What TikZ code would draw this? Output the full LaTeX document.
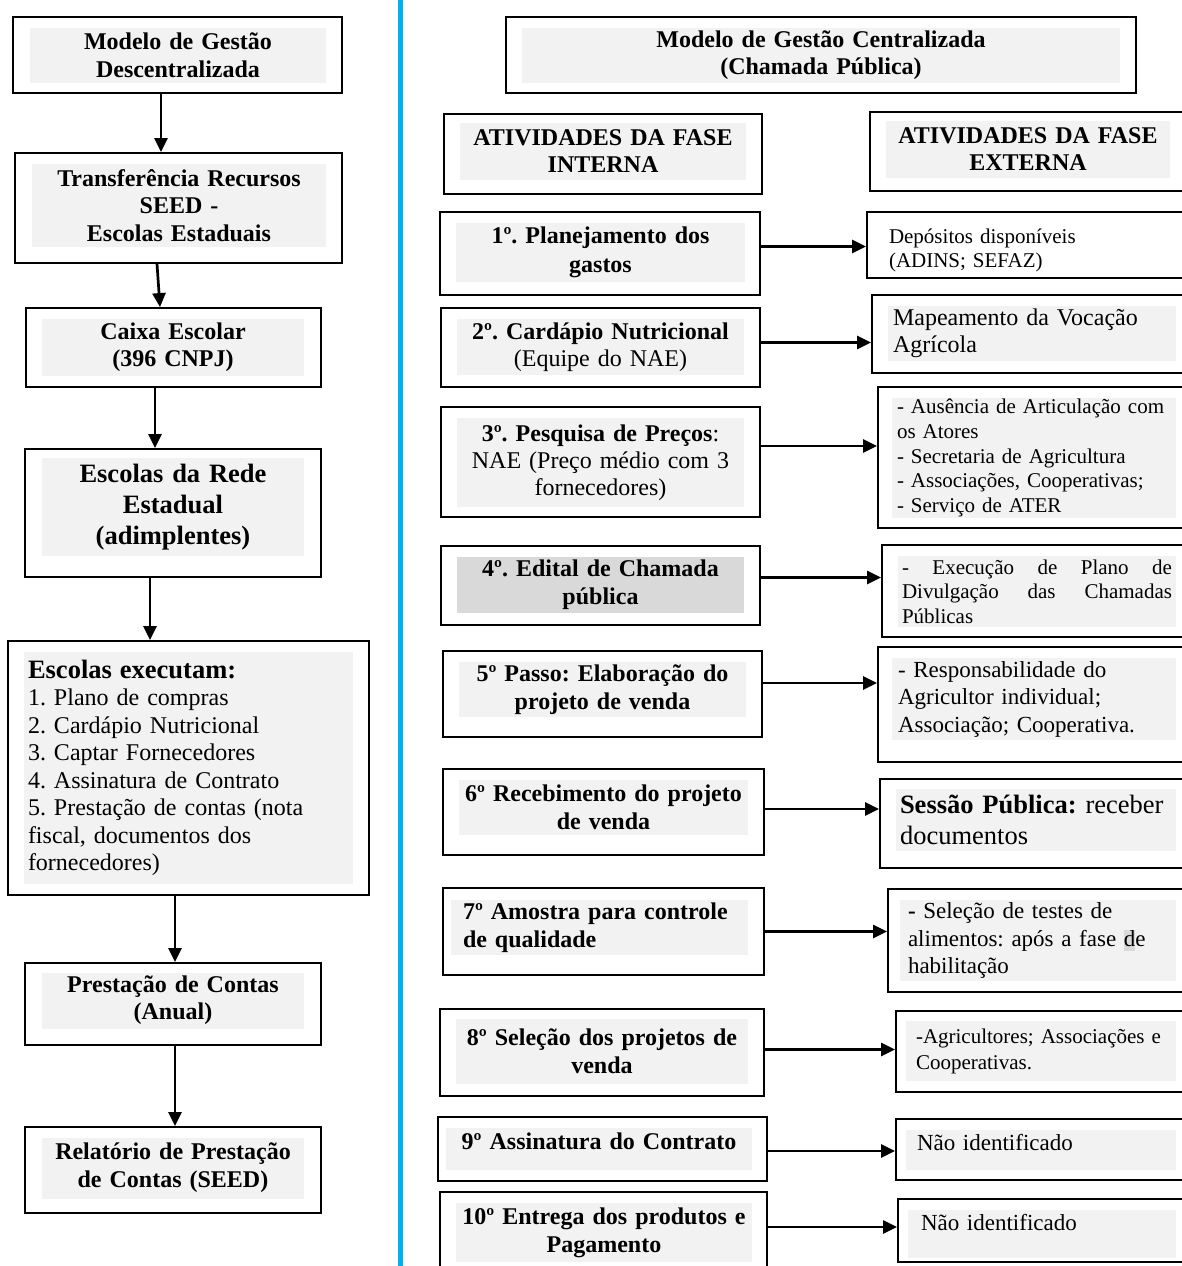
\documentclass[tikz,border=0pt]{standalone}
\usepackage{fontspec}
\setmainfont{Liberation Serif}
\usetikzlibrary{arrows.meta,fit}
\definecolor{cinza}{RGB}{242,242,242}
\definecolor{cinzaesc}{RGB}{217,217,217}
\definecolor{azul}{RGB}{0,176,240}
\newcommand{\tam}[2]{\fontsize{#1}{#2}\selectfont}
\frenchspacing
\hyphenpenalty=10000
\exhyphenpenalty=10000
\tolerance=10000
\tikzset{
    quadro/.style={draw=black, line width=1.8pt, inner sep=0pt},
    dim/.style 2 args={minimum width=#1pt, minimum height=#2pt},
    fundo/.style={fill=cinza, inner sep=0pt, align=center, font=\bfseries\tam{24}{28}},
    lista/.style={fundo, align=left, font=\tam{21}{24.5}},
    seta/.style={-{Triangle[length=14pt,width=13pt]}, line width=2.7pt}
}

\begin{document}
\begin{tikzpicture}[x=1pt, y=-1pt]
    \useasboundingbox (0,0) rectangle (1182,1266);
    \clip (0,0) rectangle (1182,1266);
    \draw[azul, line width=5pt] (400,-5) -- (400,1271);

    % modelo descentralizado
    \node[quadro, fit={(13,17) (342,93)}] (d1) {};
    \node[fundo, dim={296}{55}, text width=290pt] (d1t) at (178,55.5) {Modelo de Gestão\\Descentralizada};
    \node[quadro, fit={(15,153) (342,263)}] (d2) {};
    \node[fundo, dim={294}{83}, font=\bfseries\tam{24}{27.5}, text width=290pt] (d2t) at (179,205.5) {Transferência Recursos\\SEED -\\Escolas Estaduais};
    \node[quadro, fit={(26,308) (321,387)}] (d3) {};
    \node[fundo, dim={262}{57}, font=\bfseries\tam{24}{27}, text width=258pt] (d3t) at (173,347.5) {Caixa Escolar\\(396 CNPJ)};
    \node[quadro, fit={(25,449) (321,577)}] (d4) {};
    \node[fundo, dim={262}{98}, font=\bfseries\tam{26.5}{31}, text width=258pt] (d4t) at (173,507) {Escolas da Rede\\Estadual\\(adimplentes)};
    \node[quadro, fit={(8,641) (369,895)}] (d5) {};
    \node[lista, dim={329}{232}, font=\tam{24}{27.5}, text width=321pt] (d5t) at (188.5,768) {{\bfseries\tam{26.5}{27.5}Escolas executam:}\\1. Plano de compras\\2. Cardápio Nutricional\\3. Captar Fornecedores\\4. Assinatura de Contrato\\5. Prestação de contas (nota\\fiscal, documentos dos\\fornecedores)};
    \node[quadro, fit={(25,963) (321,1045)}] (d6) {};
    \node[fundo, dim={262}{56}, font=\bfseries\tam{24}{27}, text width=258pt] (d6t) at (173,1000.5) {Prestação de Contas\\(Anual)};
    \node[quadro, fit={(25,1127) (321,1213)}] (d7) {};
    \node[fundo, dim={262}{61}, text width=258pt] (d7t) at (173,1168) {Relatório de Prestação\\de Contas (SEED)};

    \foreach \a/\b/\sa/\sb in {d1/d2/-16.5/-17.5, d2/d3/-21.5/-13.5, d3/d4/-18.5/-18,
        d4/d5/-23/-38.5, d5/d6/-13.5/2, d6/d7/2/2}
        \draw[seta] ([xshift=\sa pt]\a.south) -- ([xshift=\sb pt]\b.north);

    % modelo centralizado
    \node[quadro, fit={(506,17) (1136,93)}] (c0) {};
    \node[fundo, dim={598}{55}, font=\bfseries\tam{24}{27}, text width=590pt] (c0t) at (821,55.5) {Modelo de Gestão Centralizada\\(Chamada Pública)};
    \node[quadro, fit={(444,114) (762,194)}] (fi) {};
    \node[fundo, dim={286}{57}, font=\bfseries\tam{24}{27}, text width=282pt] (fit) at (603,151.5) {ATIVIDADES DA FASE\\INTERNA};
    \node[quadro, fit={(870,112) (1190,191)}] (fe) {};
    \node[fundo, dim={284}{57}, font=\bfseries\tam{24}{27}, text width=280pt] (fet) at (1028,149.5) {ATIVIDADES DA FASE\\EXTERNA};

    \node[quadro, fit={(440,212) (760,295)}] (i1) {};
    \node[fundo, dim={289}{59}, font=\bfseries\tam{24}{29}, text width=285pt] (i1t) at (600.5,252.5) {1º. Planejamento dos\\gastos};
    \node[quadro, fit={(441,308) (760,387)}] (i2) {};
    \node[fundo, dim={287}{56}, font=\tam{24}{27}, text width=283pt] (i2t) at (600.5,347) {{\bfseries 2º. Cardápio Nutricional}\\(Equipe do NAE)};
    \node[quadro, fit={(441,407) (760,517)}] (i3) {};
    \node[fundo, dim={287}{89}, font=\tam{24}{27}, text width=283pt] (i3t) at (600.5,462.5) {{\bfseries 3º. Pesquisa de Preços}:\\NAE (Preço médio com 3\\fornecedores)};
    \node[quadro, fit={(441,546) (760,625)}] (i4) {};
    \node[fundo, fill=cinzaesc, dim={287}{56}, text width=283pt] (i4t) at (600.5,585) {4º. Edital de Chamada\\pública};
    \node[quadro, fit={(443,651) (762,737)}] (i5) {};
    \node[fundo, dim={287}{55}, text width=283pt] (i5t) at (602.5,689.5) {5º Passo: Elaboração do\\projeto de venda};
    \node[quadro, fit={(443,769) (764,855)}] (i6) {};
    \node[fundo, dim={289}{55}, text width=285pt] (i6t) at (603.5,807.5) {6º Recebimento do projeto\\de venda};
    \node[quadro, fit={(443,888) (764,975)}] (i7) {};
    \node[fundo, align=left, dim={297}{55}, text width=273pt] (i7t) at (599.5,927.5) {7º Amostra para controle\\de qualidade};
    \node[quadro, fit={(440,1009) (764,1096)}] (i8) {};
    \node[fundo, dim={292}{65}, text width=288pt] (i8t) at (602,1051) {8º Seleção dos projetos de\\venda};
    \node[quadro, fit={(438,1117) (767,1181)}] (i9) {};
    \node[fundo, dim={306}{42}, text width=300pt, text depth=15pt] (i9t) at (599,1149) {9º Assinatura do Contrato};
    \node[quadro, fit={(440,1192) (767,1272)}] (i10) {};
    \node[fundo, dim={296}{59}, text width=290pt] (i10t) at (604,1232.5) {10º Entrega dos produtos e\\Pagamento};

    \node[quadro, fit={(867,212) (1190,278)}] (e1) {};
    \node[lista, fill=none, dim={291}{52}, font=\tam{21}{24}, text width=283pt] (e1t) at (1030.5,250) {Depósitos disponíveis\\(ADINS; SEFAZ)};
    \node[quadro, fit={(872,295) (1190,373)}] (e2) {};
    \node[lista, dim={288}{55}, font=\tam{24}{27}, text width=278pt] (e2t) at (1032,333.5) {Mapeamento da Vocação\\Agrícola};
    \node[quadro, fit={(878,387) (1190,528)}] (e3) {};
    \node[lista, dim={284}{120}, font=\tam{21}{24.75}, text width=274pt] (e3t) at (1034,458) {- Ausência de Articulação com\\os Atores\\- Secretaria de Agricultura\\- Associações, Cooperativas;\\- Serviço de ATER};
    \node[quadro, fit={(882,545) (1190,637)}] (e4) {};
    \node[lista, align=justify, dim={278}{71}, text width=270pt] (e4t) at (1037,591.5) {- Execução de Plano de Divulgação das Chamadas Públicas};
    \node[quadro, fit={(878,647) (1190,762)}] (e5) {};
    \node[lista, dim={284}{82}, font=\tam{23}{27.5}, text width=272pt] (e5t) at (1034,699) {- Responsabilidade do\\Agricultor individual;\\Associação; Cooperativa.};
    \node[quadro, fit={(880,779) (1190,868)}] (e6) {};
    \node[lista, dim={280}{62}, font=\tam{26.5}{31}, text width=272pt] (e6t) at (1036,820) {{\bfseries Sessão Pública:} receber\\documentos};
    \node[quadro, fit={(888,889) (1190,992)}] (e7) {};
    \node[lista, dim={276}{81}, font=\tam{23}{27.5}, text width=260pt] (e7t) at (1038,940.5) {{\bfseries -} Seleção de testes de\\alimentos: após a fase {\fboxsep=0pt\colorbox{cinzaesc}{d\vphantom{p}}}e\\habilitação};
    \node[quadro, fit={(896,1011) (1190,1092)}] (e8) {};
    \node[lista, dim={270}{60}, font=\tam{21}{26}, text width=250pt] (e8t) at (1041,1051) {-Agricultores; Associações e\\Cooperativas.};
    \node[quadro, fit={(896,1119) (1190,1180)}] (e9) {};
    \node[lista, dim={270}{40}, font=\tam{23}{27}, text width=248pt, text depth=16pt] (e9t) at (1041,1150) {Não identificado};
    \node[quadro, fit={(898,1199) (1190,1262)}] (e10) {};
    \node[lista, dim={268}{48}, font=\tam{23}{27}, text width=242pt, text depth=24pt] (e10t) at (1042,1234) {Não identificado};

    \foreach \n/\dy in {1/7, 2/5, 3/16, 4/8, 5/11, 6/3, 7/0, 8/3, 9/-2, 10/5}
        \draw[seta] ([yshift=\dy pt]i\n.east) -- ([yshift=\dy pt]i\n.east -| e\n.west);
\end{tikzpicture}
\end{document}
